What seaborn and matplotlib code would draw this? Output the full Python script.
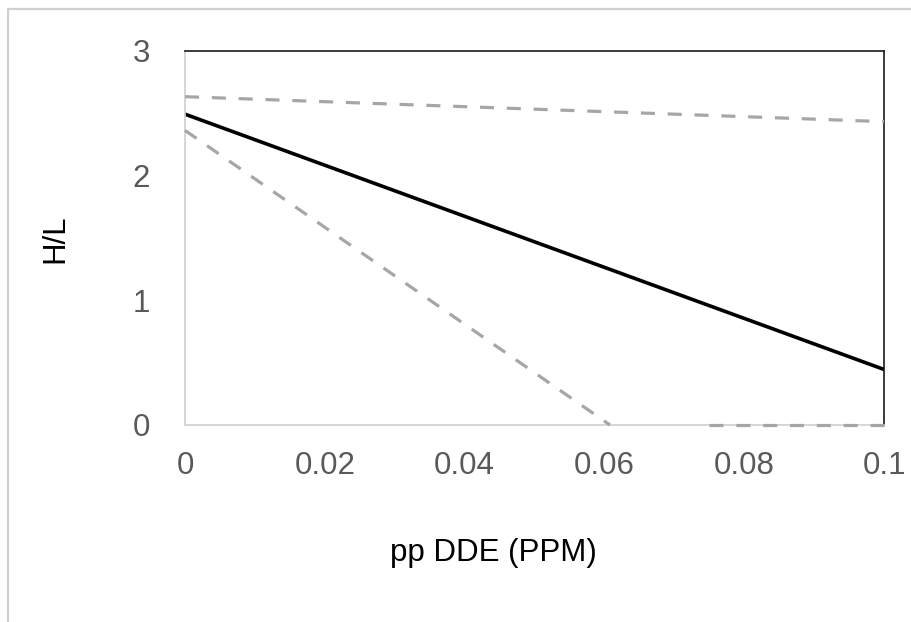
import matplotlib
matplotlib.use("Agg")
import matplotlib.pyplot as plt
import seaborn as sns
import pandas as pd
from matplotlib.lines import Line2D

# Data
fit_x = [0.0, 0.1]
fit_y = [2.49, 0.445]
upper_x = [0.0, 0.1]
upper_y = [2.63, 2.43]
lower_x = [0.0, 0.0608, 0.075, 0.1]
lower_y = [2.36, 0.0, 0.0, 0.0]
lower_part = [1, 1, 2, 2]
x_ticks = [0, 0.02, 0.04, 0.06, 0.08, 0.1]
x_tick_labels = ["0", "0.02", "0.04", "0.06", "0.08", "0.1"]
y_ticks = [0, 1, 2, 3]
y_tick_labels = ["0", "1", "2", "3"]

sns.set_theme(style="white")
plt.rcParams["font.family"] = ["Liberation Sans", "DejaVu Sans"]

fig = plt.figure(figsize=(9.12, 6.22), dpi=100)
fig.patch.set_facecolor("white")
# light border of the chart area (top and left visible)
bx = 8.5 / 912
by = 1 - 8.5 / 622
fig.add_artist(Line2D([bx, bx], [0, by], transform=fig.transFigure,
                      color="#d0d0d0", linewidth=1.6, zorder=0))
fig.add_artist(Line2D([bx, 1], [by, by], transform=fig.transFigure,
                      color="#d0d0d0", linewidth=1.6, zorder=0))

ax = fig.add_axes([185 / 912, 1 - 425 / 622, (884 - 185) / 912, (425 - 50.5) / 622])

fit_df = pd.DataFrame({"x": fit_x, "y": fit_y})
up_df = pd.DataFrame({"x": upper_x, "y": upper_y})
lo_df = pd.DataFrame({"x": lower_x, "y": lower_y, "part": lower_part})

dash_color = "#a6a6a6"
sns.lineplot(data=up_df, x="x", y="y", ax=ax, color=dash_color, linewidth=2.3,
             estimator=None, sort=False)
sns.lineplot(data=lo_df, x="x", y="y", units="part", ax=ax, color=dash_color,
             linewidth=2.3, estimator=None, sort=False)
for ln in ax.lines:
    ln.set_dashes((4.4, 4.0))
    ln.set_clip_on(False)
    ln.set_zorder(3)
sns.lineplot(data=fit_df, x="x", y="y", ax=ax, color="black", linewidth=2.6,
             estimator=None, sort=False)

ax.set_xlim(0, 0.1)
ax.set_ylim(0, 3)
ax.set_xticks(x_ticks)
ax.set_xticklabels(x_tick_labels)
ax.set_yticks(y_ticks)
ax.set_yticklabels(y_tick_labels)
ax.tick_params(axis="both", length=0, labelsize=22.5, labelcolor="#595959")
ax.tick_params(axis="x", pad=19)
ax.tick_params(axis="y", pad=25)

for side in ["left", "bottom"]:
    ax.spines[side].set_color("#d0d0d0")
    ax.spines[side].set_linewidth(1.2)
for side in ["top", "right"]:
    ax.spines[side].set_color("#1a1a1a")
    ax.spines[side].set_linewidth(1.2)
    ax.spines[side].set_visible(True)

ax.set_xlabel("")
ax.set_ylabel("")
fig.text(493 / 912, 1 - 553 / 622, "pp DDE (PPM)", ha="center", va="center",
         fontsize=22.5, color="black")
fig.text(55 / 912, 1 - 239 / 622, "H/L", ha="center", va="center",
         fontsize=22.5, color="black", rotation=90)

fig.savefig("out.png", dpi=100, facecolor="white")
